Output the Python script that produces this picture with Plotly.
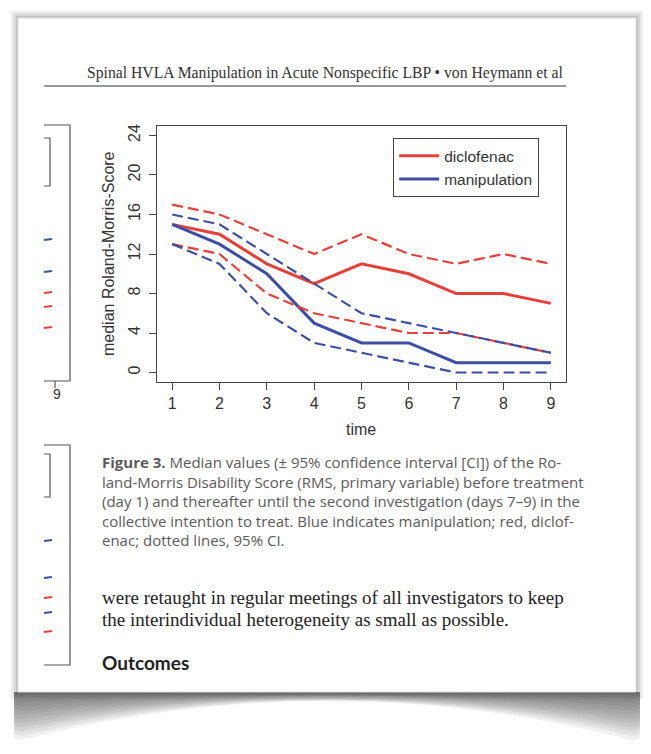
import plotly.graph_objects as go

# data (median Roland-Morris score, 95% CI)
days = [1, 2, 3, 4, 5, 6, 7, 8, 9]
diclo_median = [15, 14, 11, 9, 11, 10, 8, 8, 7]
diclo_upper = [17, 16, 14, 12, 14, 12, 11, 12, 11]
diclo_lower = [13, 12, 8, 6, 5, 4, 4, 3, 2]
manip_median = [15, 13, 10, 5, 3, 3, 1, 1, 1]
manip_upper = [16, 15, 12, 9, 6, 5, 4, 3, 2]
manip_lower = [13, 11, 6, 3, 2, 1, 0, 0, 0]
y_ticks = [0, 4, 8, 12, 16, 20, 24]

RED = "#e5403a"
BLUE = "#3d4fa3"
# the page body has an 8px margin, so the figure starts at (8, 8)
OFF = 8
W, H = 651 - 2 * OFF, 754 - 2 * OFF
# plot area in window pixels
L, R, T, B = 157, 566, 126, 382


def px(x):
    return (x - L) / (R - L)


def py(y):
    return (B - y) / (B - T)


fig = go.Figure()
fig.add_trace(go.Scatter(x=days, y=diclo_median, mode="lines", name="diclofenac",
                         line=dict(color=RED, width=3)))
fig.add_trace(go.Scatter(x=days, y=manip_median, mode="lines", name="manipulation",
                         line=dict(color=BLUE, width=3)))
for ys, col in [(diclo_upper, RED), (diclo_lower, RED), (manip_upper, BLUE), (manip_lower, BLUE)]:
    fig.add_trace(go.Scatter(x=days, y=ys, mode="lines", showlegend=False, hoverinfo="skip",
                             line=dict(color=col, width=2.2, dash="11px,5px")))

fig.update_xaxes(range=[0.68, 9.32], tickvals=days, ticks="outside", ticklen=7,
                 tickcolor="#444", showline=True, mirror=True, linecolor="#444",
                 linewidth=1.2, showgrid=False, zeroline=False,
                 tickfont=dict(family="Liberation Sans", size=16, color="#333"))
fig.update_yaxes(range=[-0.96, 24.96], tickvals=y_ticks, ticks="outside", ticklen=7,
                 tickcolor="#444", showline=True, mirror=True, linecolor="#444",
                 linewidth=1.2, showgrid=False, zeroline=False, tickangle=-90,
                 ticklabelstandoff=3,
                 tickfont=dict(family="Liberation Sans", size=16, color="#333"))

shapes = []
# soft drop shadow round the page
for i, op in enumerate([0.04, 0.05, 0.07, 0.09]):
    d = 8 - 2 * i
    shapes.append(dict(type="rect", xref="paper", yref="paper", layer="below",
                       x0=px(18 - d), x1=px(636 + d), y0=py(692 + d), y1=py(18 - d),
                       fillcolor=f"rgba(0,0,0,{op})", line_width=0))
# curled shadow under the page: deep at the corners, thin in the middle
n = 11
for k in range(n):
    dc = 48 - 4.2 * k
    dm = 9 - 0.7 * k
    ctrl = 692 + 2 * dm - dc
    shapes.append(dict(type="path", xref="paper", yref="paper", layer="below",
                       path=f"M {px(14)},{py(692)} L {px(640)},{py(692)} "
                            f"L {px(640)},{py(692 + dc - 4)} Q {px(640)},{py(692 + dc)} {px(632)},{py(692 + dc)} "
                            f"Q {px(327)},{py(ctrl)} {px(22)},{py(692 + dc)} "
                            f"Q {px(14)},{py(692 + dc)} {px(14)},{py(692 + dc - 4)} Z",
                       fillcolor="rgba(30,30,30,0.065)", line_width=0))
shapes.append(dict(type="rect", xref="paper", yref="paper", layer="below",
                   x0=px(18), x1=px(636), y0=py(692), y1=py(18),
                   fillcolor="white", line=dict(color="#dcdcdc", width=1)))
# running header rule
shapes.append(dict(type="line", xref="paper", yref="paper", x0=px(44), x1=px(566),
                   y0=py(86), y1=py(86), line=dict(color="#333", width=1.2)))
# cut-off neighbouring figures at the left edge
for top, bot, b0, b1 in [(125, 381, 138, 186), (445, 665, 454, 497)]:
    shapes.append(dict(type="path", xref="paper", yref="paper",
                       path=f"M {px(44)},{py(top)} L {px(70)},{py(top)} L {px(70)},{py(bot)} L {px(44)},{py(bot)}",
                       line=dict(color="#555", width=1.2)))
    shapes.append(dict(type="path", xref="paper", yref="paper",
                       path=f"M {px(44)},{py(b0)} L {px(50)},{py(b0)} L {px(50)},{py(b1)} L {px(44)},{py(b1)}",
                       line=dict(color="#555", width=1.2)))
shapes.append(dict(type="line", xref="paper", yref="paper", x0=px(55), x1=px(55),
                   y0=py(381), y1=py(388), line=dict(color="#555", width=1.2)))
for y0, col in [(240, BLUE), (272, BLUE), (293, RED), (307, RED), (328, RED),
                (541, BLUE), (578, BLUE), (598, RED), (613, BLUE), (632, RED)]:
    shapes.append(dict(type="line", xref="paper", yref="paper", x0=px(44), x1=px(52),
                       y0=py(y0), y1=py(y0 - 1), line=dict(color=col, width=2)))

ann = []


def text(x, y, s, size, family, color, xanchor="left", angle=0):
    ann.append(dict(x=px(x), y=py(y), xref="paper", yref="paper", text=s, showarrow=False,
                    xanchor=xanchor, yanchor="middle", textangle=angle,
                    font=dict(size=size, family=family, color=color)))


text(566, 73, "Spinal HVLA Manipulation in Acute Nonspecific LBP \u2022 von Heymann et al",
     15.7, "Liberation Serif", "#333", xanchor="right")
text(108, 254, "median Roland-Morris-Score", 16, "Liberation Sans", "#333", xanchor="center", angle=-90)
text(361, 429, "time", 16, "Liberation Sans", "#333", xanchor="center")
text(57, 394, "9", 14, "Liberation Sans", "#333", xanchor="center")

caption = [
    "<b>Figure 3.</b> Median values (\u00b1 95% confidence interval [CI]) of the Ro-",
    "land-Morris Disability Score (RMS, primary variable) before treatment",
    "(day 1) and thereafter until the second investigation (days 7\u20139) in the",
    "collective intention to treat. Blue indicates manipulation; red, diclof-",
    "enac; dotted lines, 95% CI.",
]
for i, line in enumerate(caption):
    text(100, 462 + 19.5 * i, line, 15, "Open Sans", "#5a5a5a")
text(100, 597, "were retaught in regular meetings of all investigators to keep", 19,
     "Liberation Serif", "#222")
text(100, 619, "the interindividual heterogeneity as small as possible.", 19,
     "Liberation Serif", "#222")
text(100, 662, "<b>Outcomes</b>", 19, "Lato", "#222")

fig.update_layout(
    width=W, height=H,
    margin=dict(l=L - OFF, r=W + OFF - R, t=T - OFF, b=H + OFF - B),
    paper_bgcolor="white", plot_bgcolor="white",
    showlegend=True,
    legend=dict(x=px(393), y=py(138), xanchor="left", yanchor="top",
                bordercolor="#444", borderwidth=1.2, bgcolor="white",
                font=dict(family="Liberation Sans", size=15.5, color="#333"),
                tracegroupgap=0, itemwidth=40),
    shapes=shapes, annotations=ann,
)

fig.write_html("out.html")
